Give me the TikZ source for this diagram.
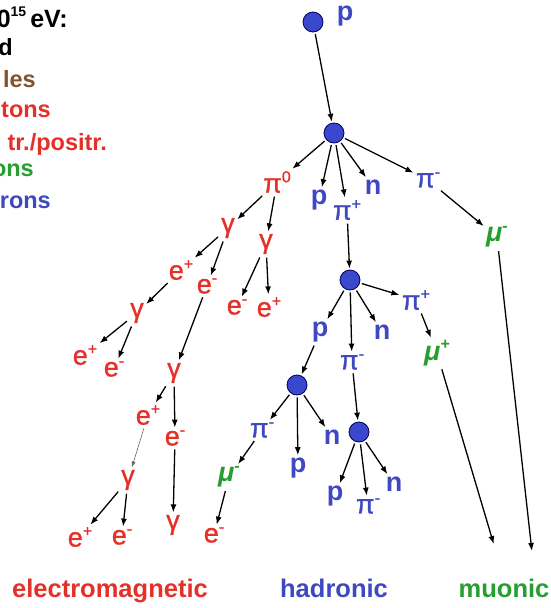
\documentclass[tikz,border=0pt]{standalone}
\usepackage{fontspec}
\setmainfont{Liberation Sans}
% slightly heavier regular face for the particle symbols
\newfontfamily\ptclfont{Liberation Sans}[FakeBold=1]
\usetikzlibrary{arrows.meta}

\definecolor{emred}{RGB}{228,48,40}
\definecolor{hadblue}{RGB}{62,72,192}
\definecolor{muongreen}{RGB}{38,158,48}
\definecolor{legbrown}{RGB}{128,84,44}
\definecolor{dotblue}{RGB}{58,72,205}

% raised small charge / index
\newcommand\sups[1]{\raisebox{0.38em}{\fontsize{16}{16}\selectfont #1}}

\tikzset{
  ptcl/.style={inner sep=1.5pt, font=\fontsize{27}{27}\selectfont\ptclfont},
  emp/.style={ptcl, text=emred},
  hadp/.style={ptcl, text=hadblue},
  hadb/.style={ptcl, text=hadblue, font=\fontsize{27}{27}\selectfont\bfseries},
  mup/.style={ptcl, text=muongreen, font=\fontsize{27}{27}\selectfont\bfseries\itshape},
  vertex/.style={circle, minimum size=20pt, inner sep=0pt, fill=dotblue, draw=black!65!blue, line width=0.8pt},
  flow/.style={-{Latex[length=8pt,width=6pt]}, line width=1.3pt, shorten <=2pt, shorten >=1pt},
  thinflow/.style={-{Latex[length=6pt,width=4pt]}, line width=0.6pt, draw=black!60, shorten <=2pt, shorten >=1pt},
  legend/.style={anchor=base east, inner sep=0pt, font=\fontsize{23.5}{23.5}\selectfont\bfseries},
  kind/.style={anchor=base, inner sep=0pt, font=\fontsize{25.5}{25.5}\selectfont\bfseries},
}

\begin{document}
\begin{tikzpicture}[x=1pt, y=-1pt]
\useasboundingbox (0,0) rectangle (551,608);

% legend column, running past the left edge
\node[legend, text=black, font=\fontsize{25}{25}\selectfont\bfseries] (l1) at (68,27)
  {0{\fontsize{14}{14}\selectfont\raisebox{0.75em}{15}}\hspace{4pt}eV:};
\node[legend, text=black] (l2) at (13,55) {d};
\node[legend, text=legbrown] (l3) at (36,87) {les};
\node[legend, text=emred] (l4) at (51,117) {tons};
\node[legend, text=emred] (l5) at (107,150) {tr./positr.};
\node[legend, text=muongreen] (l6) at (34,176) {ons};
\node[legend, text=hadblue] (l7) at (51,208) {rons};

% primary and first interaction
\node[vertex] (v0) at (313,22) {};
\node[hadb] (p0) at (345,16) {p};
\node[vertex] (v1) at (334,133) {};
\node[emp] (pi0) at (277,182) {π\sups{0}};
\node[hadb] (p1) at (319,200) {p};
\node[hadp] (pip1) at (347,210) {π\sups{+}};
\node[hadb] (n1) at (373,187) {n};
\node[hadp] (pim1) at (428,180) {π\sups{-}};
\node[mup] (mum1) at (497,237) {μ\sups{-}};
\coordinate (mum1end) at (532,552);

% electromagnetic cascade
\node[emp] (g1) at (228,228) {γ};
\node[emp] (g2) at (266,244) {γ};
\node[emp] (ep1) at (181,270) {e\sups{+}};
\node[emp] (em1) at (207,286) {e\sups{-}};
\node[emp] (em2) at (237,307) {e\sups{-}};
\node[emp] (ep2) at (269,307) {e\sups{+}};
\node[emp] (g3) at (137,313) {γ};
\node[emp] (ep3) at (85,355) {e\sups{+}};
\node[emp] (em3) at (114,369) {e\sups{-}};
\node[emp] (g4) at (174,373) {γ};
\node[emp] (ep4) at (148,415) {e\sups{+}};
\node[emp] (em4) at (175,438) {e\sups{-}};
\node[emp] (g5) at (128,480) {γ};
\node[emp] (g6) at (173,525) {γ};
\node[emp] (ep5) at (80,537) {e\sups{+}};
\node[emp] (em5) at (122,537) {e\sups{-}};

% hadronic cascade
\node[vertex] (v2) at (350,280) {};
\node[hadp] (pip2) at (416,300) {π\sups{+}};
\node[hadb] (p2) at (320,332) {p};
\node[hadb] (n2) at (382,332) {n};
\node[hadp] (pim2) at (352,362) {π\sups{-}};
\node[mup] (mup2) at (437,353) {μ\sups{+}};
\coordinate (mup2end) at (494,545);
\node[vertex] (v3) at (297,385) {};
\node[hadp] (pim3) at (262,430) {π\sups{-}};
\node[hadb] (p3) at (298,468) {p};
\node[hadb] (n3) at (332,437) {n};
\node[mup] (mum3) at (229,477) {μ\sups{-}};
\node[emp] (em6) at (214,535) {e\sups{-}};
\node[vertex] (v4) at (359,432) {};
\node[hadb] (p4) at (335,496) {p};
\node[hadp] (pim4) at (368,506) {π\sups{-}};
\node[hadb] (n4) at (394,484) {n};

% component names
\node[kind, text=emred] (kem) at (110,597) {electromagnetic};
\node[kind, text=hadblue] (khad) at (334,597) {hadronic};
\node[kind, text=muongreen] (kmu) at (504,597) {muonic};

% connectors
\draw[flow] (v0) -- (v1);
\draw[flow] (v1) -- (pi0);
\draw[flow] (v1) -- (p1);
\draw[flow] (v1) -- (pip1);
\draw[flow] (v1) -- (n1);
\draw[flow] (v1) -- (pim1);
\draw[flow] (pim1) -- (mum1);
\draw[flow] (mum1) -- (mum1end);

\draw[flow] (pi0) -- (g1);
\draw[flow] (pi0) -- (g2);
\draw[flow] (g1) -- (ep1);
\draw[flow] (g1) -- (em1);
\draw[flow] (g2) -- (em2);
\draw[flow] (g2) -- (ep2);
\draw[flow] (ep1) -- (g3);
\draw[flow] (g3) -- (ep3);
\draw[flow] (g3) -- (em3);
\draw[flow] (em1) -- (g4);
\draw[flow] (g4) -- (ep4);
\draw[flow] (g4) -- (em4);
\draw[thinflow] (ep4) -- (g5);
\draw[flow] (g5) -- (ep5);
\draw[flow] (g5) -- (em5);
\draw[flow] (em4) -- (g6);

\draw[flow] (pip1) -- (v2);
\draw[flow] (v2) -- (p2);
\draw[flow] (v2) -- (pim2);
\draw[flow] (v2) -- (n2);
\draw[flow] (v2) -- (pip2);
\draw[flow] (pip2) -- (mup2);
\draw[flow] (mup2) -- (mup2end);
\draw[flow] (p2) -- (v3);
\draw[flow] (v3) -- (pim3);
\draw[flow] (v3) -- (p3);
\draw[flow] (v3) -- (n3);
\draw[flow] (pim3) -- (mum3);
\draw[flow] (mum3) -- (em6);
\draw[flow] (pim2) -- (v4);
\draw[flow] (v4) -- (p4);
\draw[flow] (v4) -- (pim4);
\draw[flow] (v4) -- (n4);
\end{tikzpicture}
\end{document}
